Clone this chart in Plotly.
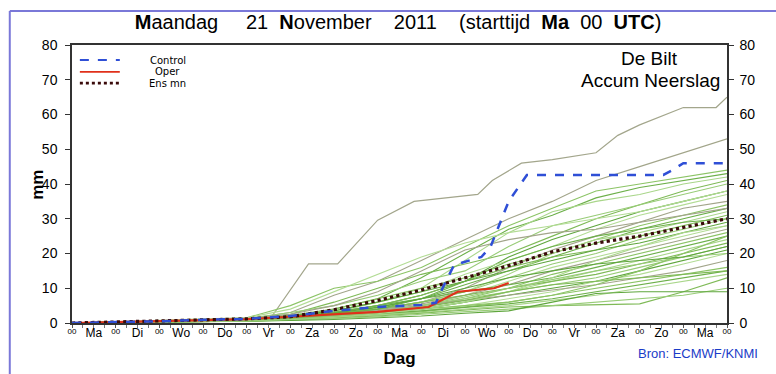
import plotly.graph_objects as go

# ---------------- data ----------------
DAY_LABELS = ["Ma", "Di", "Wo", "Do", "Vr", "Za", "Zo", "Ma", "Di", "Wo", "Do", "Vr", "Za", "Zo", "Ma"]
DAY_HOURS = [0, 24, 48, 72, 96, 120, 144, 168, 192, 216, 240, 264, 288, 312, 336, 360]
NOON_HOURS = [12, 36, 60, 84, 108, 132, 156, 180, 204, 228, 252, 276, 300, 324, 348]
Y_TICKS = [0, 10, 20, 30, 40, 50, 60, 70, 80]
LEGEND_NAMES = ["Control", "Oper", "Ens mn"]

CONTROL_H = [0, 24, 48, 72, 96, 120, 144, 168, 192, 200, 204, 210, 225, 230, 240, 250, 280, 325, 330, 336, 360]
CONTROL_V = [0, 0.2, 0.5, 0.9, 1.2, 2.0, 3.5, 4.6, 5.2, 5.8, 10.4, 16.7, 19.0, 21.9, 35.0, 42.6, 42.6, 42.6, 44.0, 46.0, 46.0]

OPER_H = [0, 24, 48, 72, 96, 120, 144, 168, 196, 212, 232, 240]
OPER_V = [0, 0.2, 0.5, 0.8, 1.1, 1.8, 2.6, 3.2, 4.6, 9.0, 10.0, 11.5]

MEAN_H = [0, 24, 48, 72, 96, 120, 144, 168, 192, 216, 240, 264, 288, 312, 336, 360]
MEAN_V = [0, 0.3, 0.7, 1.0, 1.2, 1.8, 3.8, 6.5, 9.5, 13.0, 16.5, 20.5, 23.0, 25.0, 27.5, 30.0]

TOP_MEMBER_H = [0, 24, 48, 72, 96, 110, 130, 146, 168, 188, 223, 231, 247, 264, 288, 300, 312, 336, 354, 360]
TOP_MEMBER_V = [0, 0.3, 0.6, 0.8, 1.0, 2.0, 17.0, 17.0, 29.6, 35.0, 37.0, 41.0, 46.0, 47.0, 49.0, 54.0, 57.0, 62.0, 62.0, 65.0]

MEMBER_H = [0, 24, 48, 72, 96, 120, 144, 168, 192, 216, 240, 264, 288, 312, 336, 360]
MEMBERS = [
    [0, 0.2, 0.5, 0.8, 1.2, 3, 8, 12, 18, 24, 30, 35, 41, 45, 49, 53],
    [0, 0.3, 0.6, 1, 1.5, 5, 10, 12, 16, 22, 28, 33, 38, 40, 42, 44],
    [0, 0.2, 0.4, 0.7, 1, 2, 4, 7, 13, 20, 27, 31, 36, 39, 41, 43],
    [0, 0.1, 0.3, 0.5, 0.8, 1.5, 3, 6, 10, 18, 26, 32, 35, 37, 40, 42],
    [0, 0.2, 0.5, 0.9, 1.2, 2.5, 6, 10, 14, 17, 20, 25, 30, 34, 38, 41],
    [0, 0.3, 0.7, 1, 1.3, 3, 5, 8, 12, 15, 22, 28, 31, 34, 37, 40],
    [0, 0.1, 0.3, 0.6, 0.9, 1.8, 3, 5, 8, 12, 19, 24, 28, 32, 35, 38],
    [0, 0.2, 0.4, 0.7, 1, 2, 3.5, 6, 9, 14, 18, 22, 27, 31, 34, 37],
    [0, 0.1, 0.2, 0.4, 0.7, 1.2, 2.5, 4, 6, 10, 16, 21, 25, 29, 33, 35],
    [0, 0.2, 0.5, 0.8, 1.1, 2.2, 4, 7, 10, 13, 17, 20, 24, 28, 31, 34],
    [0, 0.3, 0.6, 0.9, 1.2, 2, 3, 4.5, 7, 11, 15, 19, 23, 27, 30, 33],
    [0, 0.1, 0.3, 0.5, 0.8, 1.5, 2.5, 4, 6, 9, 14, 20, 24, 26, 29, 32],
    [0, 0.2, 0.4, 0.7, 1, 1.8, 3, 5, 8, 12, 16, 19, 21, 25, 28, 31],
    [0, 0.1, 0.3, 0.6, 0.9, 1.6, 2.8, 4, 6, 9, 13, 17, 20, 24, 27, 30],
    [0, 0.2, 0.5, 0.8, 1.1, 2, 3.5, 6, 9, 12, 15, 18, 21, 23, 26, 29],
    [0, 0.1, 0.2, 0.5, 0.8, 1.3, 2.2, 3.5, 5, 8, 12, 16, 19, 22, 25, 28],
    [0, 0.2, 0.4, 0.6, 0.9, 1.5, 2.5, 3.8, 5.5, 8, 11, 15, 18, 21, 24, 27],
    [0, 0.1, 0.3, 0.5, 0.7, 1.2, 2, 3, 4.5, 7, 10, 14, 17, 20, 23, 26],
    [0, 0.2, 0.5, 0.8, 1, 1.8, 3, 5, 7, 9, 11, 13, 16, 19, 22, 25],
    [0, 0.1, 0.2, 0.4, 0.6, 1, 1.8, 2.8, 4, 6, 9, 12, 15, 18, 21, 24],
    [0, 0.2, 0.4, 0.7, 0.9, 1.5, 2.6, 4, 6, 8, 10, 12, 14, 17, 20, 23],
    [0, 0.1, 0.3, 0.5, 0.8, 1.4, 2.3, 3.3, 5, 7, 9, 11, 13, 16, 19, 22],
    [0, 0.2, 0.3, 0.6, 0.8, 1.2, 2, 3, 4, 6, 8, 10, 12, 15, 18, 21],
    [0, 0.1, 0.2, 0.4, 0.6, 1, 1.6, 2.5, 3.5, 5, 7, 9, 12, 14, 17, 20],
    [0, 0.2, 0.4, 0.6, 0.9, 1.3, 2.2, 3.6, 5, 6.5, 8, 9.5, 11, 13, 15, 18],
    [0, 0.1, 0.2, 0.3, 0.5, 0.9, 1.5, 2.3, 3.2, 4.5, 6, 8, 10, 12, 14, 16],
    [0, 0.1, 0.3, 0.5, 0.7, 1.1, 1.8, 2.6, 3.5, 4.5, 5.5, 7, 9, 11, 13, 15],
    [0, 0.2, 0.3, 0.5, 0.7, 1, 1.6, 2.2, 3, 4, 5, 6.5, 8, 10, 12, 14],
    [0, 0.1, 0.2, 0.4, 0.6, 0.9, 1.4, 2, 2.8, 3.6, 4.6, 5, 5.2, 5.5, 9, 13],
    [0, 0.1, 0.2, 0.3, 0.5, 0.8, 1.2, 1.8, 2.5, 3.2, 4, 5, 6, 7, 8, 10],
    [0, 0.1, 0.2, 0.3, 0.4, 0.7, 1, 1.5, 2, 2.8, 3.5, 6, 8.5, 9, 9, 9],
    [0, 0.3, 0.8, 1.2, 1.5, 4, 9, 14, 19, 23, 26, 28, 30, 32, 35, 38],
    [0, 0.2, 0.5, 0.8, 1.2, 2.5, 5, 9, 15, 21, 24, 26, 27, 29, 31, 33],
    [0, 0.1, 0.3, 0.5, 0.8, 1.2, 2, 3, 4, 5, 6, 8, 11, 15, 20, 25],
    [0, 0.2, 0.4, 0.6, 0.9, 1.5, 2.5, 4, 7, 12, 18, 22, 25, 27, 29, 30],
    [0, 0.1, 0.2, 0.4, 0.6, 1, 1.7, 2.7, 4, 6, 9, 13, 18, 22, 26, 28],
    [0, 0.2, 0.3, 0.5, 0.8, 1.3, 2, 3, 4.5, 6.5, 9, 11, 12, 13, 14, 15],
    [0, 0.1, 0.3, 0.5, 0.7, 1.1, 1.9, 3, 5, 7.5, 10, 12.5, 15, 17, 19, 20],
    [0, 0.2, 0.4, 0.7, 1, 1.6, 2.8, 4.5, 7, 10, 13, 15, 17, 18, 19, 22],
]

# ---------------- styles ----------------
MEMBER_COLORS = ["#a2a58a", "#8cc466", "#6db04a", "#a9d68a", "#7fba57", "#98cc77", "#5fa63d", "#b3dc95"]
FONT = "Liberation Sans"
CONTROL_STYLE = dict(color="#2f4fd6", width=2.5, dash="dash")
OPER_STYLE = dict(color="#e0301a", width=2.2)
MEAN_STYLE = dict(color="#3a0a0a", width=3.2, dash="dot")

fig = go.Figure()

fig.add_trace(go.Scatter(x=TOP_MEMBER_H, y=TOP_MEMBER_V, mode="lines",
                         line=dict(color="#a3a68c", width=1.2), showlegend=False, hoverinfo="skip"))
for i, vals in enumerate(MEMBERS):
    fig.add_trace(go.Scatter(x=MEMBER_H, y=vals, mode="lines",
                             line=dict(color=MEMBER_COLORS[i % len(MEMBER_COLORS)], width=1.1),
                             showlegend=False, hoverinfo="skip"))

fig.add_trace(go.Scatter(x=OPER_H, y=OPER_V, mode="lines", name="Oper", line=OPER_STYLE,
                         showlegend=False))
fig.add_trace(go.Scatter(x=MEAN_H, y=MEAN_V, mode="lines", name="Ens mn", line=MEAN_STYLE,
                         showlegend=False))
fig.add_trace(go.Scatter(x=CONTROL_H, y=CONTROL_V, mode="lines", name="Control", line=CONTROL_STYLE,
                         showlegend=False))

# invisible trace bound to right axis / day-label axis so they render
fig.add_trace(go.Scatter(x=[0, 360], y=[0, 80], yaxis="y2", xaxis="x2", mode="lines",
                         line=dict(width=0), showlegend=False, hoverinfo="skip"))

fig.update_layout(
    width=776, height=374,
    margin=dict(l=72, r=49, t=45, b=51),
    paper_bgcolor="white", plot_bgcolor="white",
    font=dict(family=FONT, color="black"),
    title=dict(text="<b>M</b>aandag     21  <b>N</b>ovember    2011    (starttijd  <b>Ma</b>  00  <b>UTC</b>)",
               x=0.513, xanchor="center", y=0.94, yanchor="middle",
               font=dict(size=20, family=FONT, color="black")),
    showlegend=False,
    xaxis=dict(range=[0, 360], tickvals=DAY_HOURS, ticktext=["00"] * len(DAY_HOURS),
               tickfont=dict(size=8, color="black"), ticks="outside", ticklen=3, tickcolor="#555",
               ticklabelstandoff=-3,
               minor=dict(dtick=6, ticks="outside", ticklen=3, tickcolor="#777"),
               showline=True, linecolor="#333", linewidth=1.5, mirror=True, automargin=False,
               showgrid=False, zeroline=False, fixedrange=True,
               title=dict(text="<b>Dag</b>", font=dict(size=17), standoff=17)),
    xaxis2=dict(range=[0, 360], overlaying="x", side="bottom", anchor="y", automargin=False,
                tickvals=NOON_HOURS, ticktext=DAY_LABELS, tickfont=dict(size=12, color="black"),
                ticks="", ticklabelstandoff=1, showgrid=False, zeroline=False, showline=False),
    yaxis=dict(range=[0, 80], tickvals=Y_TICKS, tickfont=dict(size=14, color="black"), ticks="outside",
               ticklen=5, tickcolor="#333", showline=True, linecolor="#333", linewidth=1.5,
               ticklabelstandoff=5, showgrid=False, zeroline=False, automargin=False),
    yaxis2=dict(range=[0, 80], tickvals=Y_TICKS, tickfont=dict(size=14, color="black"), ticks="outside",
                ticklen=5, tickcolor="#333", overlaying="y", side="right", anchor="x", automargin=False,
                ticklabelstandoff=3,
                showline=True, linecolor="#333", linewidth=1.5, showgrid=False, zeroline=False),
)

# y-axis title placed close to the tick labels, as in the original
fig.add_annotation(text="<b>mm</b>", x=-0.054, y=0.496, xref="paper", yref="paper", textangle=-90,
                   showarrow=False, font=dict(size=17, family=FONT), xanchor="center", yanchor="middle")

# legend (key lines + labels) in the upper-left corner
LEG_Y = [0.946, 0.903, 0.863]
for name, style, ly in zip(LEGEND_NAMES, [CONTROL_STYLE, OPER_STYLE, MEAN_STYLE], LEG_Y):
    fig.add_shape(type="line", xref="paper", yref="paper", x0=0.012, x1=0.073, y0=ly, y1=ly,
                  line=dict(color=style["color"], width=style["width"] - 0.5, dash=style.get("dash", "solid")))
    fig.add_annotation(text=name, x=0.146, y=ly, xref="paper", yref="paper", showarrow=False,
                       font=dict(size=10, family="DejaVu Sans"), xanchor="center", yanchor="middle",
                       borderpad=0)

fig.add_annotation(text="De Bilt", x=0.881, y=0.953, xref="paper", yref="paper",
                   showarrow=False, font=dict(size=19, family=FONT), xanchor="center", yanchor="middle")
fig.add_annotation(text="Accum Neerslag", x=0.993, y=0.874, xref="paper", yref="paper",
                   showarrow=False, font=dict(size=19, family=FONT), xanchor="right", yanchor="middle")
fig.add_annotation(text="Bron: ECMWF/KNMI", x=1.05, y=-0.108, xref="paper", yref="paper",
                   showarrow=False, font=dict(size=13, family=FONT, color="#1a3cc8"),
                   xanchor="right", yanchor="middle")

# outer frame (top + left)
fig.add_shape(type="line", xref="paper", yref="paper", x0=-0.095, x1=1.08, y0=1.122, y1=1.122,
              line=dict(color="#7a78d8", width=2))
fig.add_shape(type="line", xref="paper", yref="paper", x0=-0.095, x1=-0.095, y0=1.122, y1=-0.2,
              line=dict(color="#7a78d8", width=2))

# remove the browser's default page margin so the figure sits at the window origin
fig.write_html("out.html", config={"displayModeBar": False},
               post_script="document.body.style.margin='0px';")
